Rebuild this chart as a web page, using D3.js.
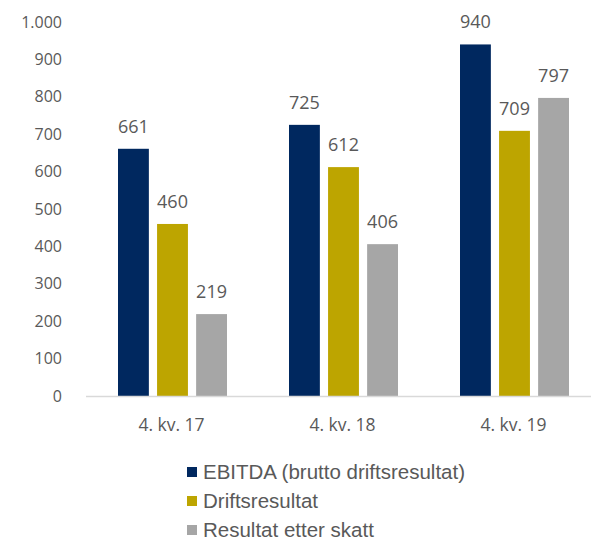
<!DOCTYPE html>
<html><head><meta charset="utf-8">
<script src="https://cdn.jsdelivr.net/npm/d3@7"></script>
<style>body{margin:0;background:#fff}svg{display:block}</style>
</head><body>
<svg id="c" width="591" height="540"></svg>
<script>
const categories = ["4. kv. 17", "4. kv. 18", "4. kv. 19"];
const seriesNames = ["EBITDA (brutto driftsresultat)", "Driftsresultat", "Resultat etter skatt"];
const ebitda = [661, 725, 940];
const drift = [460, 612, 709];
const etterSkatt = [219, 406, 797];
const yTicks = [0, 100, 200, 300, 400, 500, 600, 700, 800, 900, 1000];
const colors = ["#00285F", "#BDA500", "#A6A6A6"];

const values = [ebitda, drift, etterSkatt];
const svg = d3.select("#c");
const textCol = "#595959";
const numFont = "'Open Sans', 'Noto Sans', sans-serif";

const y = d3.scaleLinear().domain([0, 1000]).range([396, 22]);
const x0 = d3.scaleBand().domain(categories).range([86, 599]);
const x1 = d3.scaleBand().domain(seriesNames).range([32, 141]).paddingInner(0.21);

// y tick labels
svg.append("g").selectAll("text").data(yTicks).join("text")
  .attr("x", 62).attr("y", d => y(d)).attr("dy", "0.35em")
  .attr("text-anchor", "end").attr("fill", textCol)
  .style("font-family", numFont).style("font-size", "16px")
  .text(d => d3.format(",")(d).replace(/,/g, "."));

// bars
const g = svg.append("g");
categories.forEach((c, ci) => {
  seriesNames.forEach((s, si) => {
    const v = values[si][ci];
    g.append("rect")
      .attr("x", x0(c) + x1(s)).attr("y", y(v))
      .attr("width", x1.bandwidth()).attr("height", y(0) - y(v))
      .attr("fill", colors[si]);
    g.append("text")
      .attr("x", x0(c) + x1(s) + x1.bandwidth() / 2).attr("y", y(v) - 16)
      .attr("text-anchor", "middle").attr("fill", textCol)
      .style("font-family", numFont).style("font-size", "18px")
      .text(v);
  });
});

// x axis line
svg.append("line").attr("x1", 86).attr("x2", 591)
  .attr("y1", y(0) + 0.5).attr("y2", y(0) + 0.5)
  .attr("stroke", "#D9D9D9").attr("stroke-width", 1.3);

// category labels
svg.append("g").selectAll("text").data(categories).join("text")
  .attr("x", d => x0(d) + x0.bandwidth() / 2).attr("y", 425).attr("dy", "0.35em")
  .attr("text-anchor", "middle").attr("fill", textCol)
  .style("font-family", numFont).style("font-size", "17.5px")
  .text(d => d);

// legend
const lg = svg.append("g");
seriesNames.forEach((s, i) => {
  const cy = 472 + i * 29;
  lg.append("rect").attr("x", 187).attr("y", cy - 5).attr("width", 10).attr("height", 10).attr("fill", colors[i]);
  lg.append("text").attr("x", 203).attr("y", cy).attr("dy", "0.35em")
    .attr("fill", textCol)
    .style("font-family", "'Liberation Sans', Arial, sans-serif").style("font-size", "20.5px")
    .text(s);
});
</script>
</body></html>
